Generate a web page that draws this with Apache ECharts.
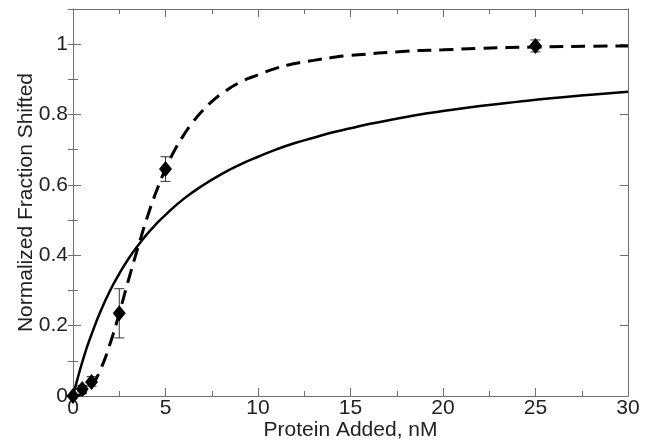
<!DOCTYPE html>
<html>
<head>
<meta charset="utf-8">
<script src="https://cdn.jsdelivr.net/npm/echarts@6/dist/echarts.min.js"></script>
<style>
  html, body { margin: 0; padding: 0; background: #fff; }
  #chart { width: 653px; height: 440px; }
</style>
</head>
<body>
<div id="chart"></div>
<script>
// measured points with error bars
const pointX = [0, 0.5, 1, 2.5, 5, 25];
const pointY = [0, 0.02, 0.04, 0.235, 0.645, 0.995];
const errLow = [0, 0.012, 0.028, 0.165, 0.61, 0.978];
const errHigh = [0, 0.03, 0.055, 0.305, 0.68, 1.012];

// solid fit curve
const solidX = [0, 0.25, 0.5, 0.75, 1, 1.5, 2, 2.5, 3, 3.5, 4, 4.5, 5, 6, 7, 8, 9, 10, 11, 12, 13, 14, 15, 16, 17, 18, 19, 20, 22, 24, 26, 28, 30];
const solidY = [0, 0.05, 0.096, 0.138, 0.175, 0.242, 0.299, 0.347, 0.39, 0.427, 0.46, 0.489, 0.515, 0.561, 0.598, 0.63, 0.657, 0.68, 0.701, 0.719, 0.734, 0.749, 0.761, 0.773, 0.783, 0.793, 0.802, 0.81, 0.824, 0.836, 0.847, 0.856, 0.865];

// dashed fit curve
const dashX = [0, 0.5, 1, 1.5, 2, 2.5, 3, 3.5, 4, 4.5, 5, 5.5, 6, 6.5, 7, 7.5, 8, 9, 10, 11, 12, 13, 14, 15, 18, 20, 22, 25, 28, 30];
const dashY = [0, 0.005, 0.029, 0.077, 0.148, 0.235, 0.33, 0.42, 0.506, 0.581, 0.645, 0.699, 0.743, 0.78, 0.811, 0.837, 0.858, 0.891, 0.913, 0.932, 0.945, 0.954, 0.962, 0.968, 0.98, 0.984, 0.988, 0.992, 0.994, 0.995];

const yTicks = [0, 0.2, 0.4, 0.6, 0.8, 1];

function pairs (xs, ys) { return xs.map((x, i) => [x, ys[i]]); }

const frameColor = '#6e6e6e';
const textColor = '#222';
const font = 'Liberation Sans, Arial, Helvetica, sans-serif';

function yLabel (v) {
  if (v === 0) return '0';
  if (v === 1) return '1';
  return yTicks.indexOf(+v.toFixed(1)) >= 0 ? v.toFixed(1) : '';
}

const chart = echarts.init(document.getElementById('chart'), null, { renderer: 'canvas' });

const tickStyle = { color: frameColor, width: 1 };

chart.setOption({
  animation: false,
  backgroundColor: '#fff',
  grid: { left: 73, right: 25, top: 9, bottom: 44, containLabel: false, outerBoundsMode: 'none' },
  xAxis: [
    {
      type: 'value', position: 'bottom', min: 0, max: 30, interval: 5,
      name: 'Protein Added, nM', nameLocation: 'middle', nameGap: 24, nameMoveOverlap: false,
      nameTextStyle: { color: textColor, fontSize: 21, fontFamily: font },
      axisLine: { show: true, onZero: false, lineStyle: { color: frameColor, width: 1 } },
      axisTick: { show: true, inside: true, length: 8, lineStyle: tickStyle },
      minorTick: { show: true, splitNumber: 2, length: 5, lineStyle: tickStyle },
      axisLabel: { color: textColor, fontSize: 21, fontFamily: font, margin: 2 },
      splitLine: { show: false }
    },
    {
      type: 'value', position: 'top', min: 0, max: 30, interval: 5,
      axisLine: { show: true, onZero: false, lineStyle: { color: frameColor, width: 1 } },
      axisTick: { show: true, inside: true, length: 8, lineStyle: tickStyle },
      minorTick: { show: true, splitNumber: 2, length: 5, lineStyle: tickStyle },
      axisLabel: { show: false },
      splitLine: { show: false }
    }
  ],
  yAxis: [
    {
      type: 'value', position: 'left', min: 0, max: 1.1, interval: 0.2,
      name: 'Normalized Fraction Shifted', nameLocation: 'middle', nameGap: 36, nameMoveOverlap: false,
      nameTextStyle: { color: textColor, fontSize: 21, fontFamily: font },
      axisLine: { show: true, onZero: false, lineStyle: { color: frameColor, width: 1 } },
      axisTick: { show: true, inside: true, length: 8, lineStyle: tickStyle },
      axisLabel: { color: textColor, fontSize: 21, fontFamily: font, margin: 5, showMaxLabel: false, formatter: yLabel },
      splitLine: { show: false }
    },
    {
      type: 'value', position: 'left', min: 0, max: 1.1, interval: 0.1,
      axisLine: { show: false },
      axisTick: { show: true, inside: true, length: 5, lineStyle: tickStyle },
      axisLabel: { show: false },
      splitLine: { show: false }
    },
    {
      type: 'value', position: 'right', min: 0, max: 1.1, interval: 0.2,
      axisLine: { show: true, onZero: false, lineStyle: { color: frameColor, width: 1 } },
      axisTick: { show: true, inside: true, length: 8, lineStyle: tickStyle },
      axisLabel: { show: false },
      splitLine: { show: false }
    },
    {
      type: 'value', position: 'right', min: 0, max: 1.1, interval: 0.1,
      axisLine: { show: false },
      axisTick: { show: true, inside: true, length: 5, lineStyle: tickStyle },
      axisLabel: { show: false },
      splitLine: { show: false }
    }
  ],
  series: [
    {
      name: 'solid', type: 'line', smooth: 0.5, showSymbol: false,
      data: pairs(solidX, solidY),
      lineStyle: { color: '#000', width: 2.5 },
      z: 2
    },
    {
      name: 'dashed', type: 'line', smooth: 0.5, showSymbol: false,
      data: pairs(dashX, dashY),
      lineStyle: { color: '#000', width: 3, type: [14, 8] },
      z: 2
    },
    {
      name: 'errors', type: 'custom',
      data: pointX.map((x, i) => [x, errLow[i], errHigh[i]]),
      renderItem: function (params, api) {
        const lo = api.coord([api.value(0), api.value(1)]);
        const hi = api.coord([api.value(0), api.value(2)]);
        const hw = 5;
        const style = { stroke: '#333', lineWidth: 1 };
        return {
          type: 'group',
          children: [
            { type: 'line', shape: { x1: lo[0], y1: lo[1], x2: hi[0], y2: hi[1] }, style: style },
            { type: 'line', shape: { x1: lo[0] - hw, y1: lo[1], x2: lo[0] + hw, y2: lo[1] }, style: style },
            { type: 'line', shape: { x1: hi[0] - hw, y1: hi[1], x2: hi[0] + hw, y2: hi[1] }, style: style }
          ]
        };
      },
      z: 3
    },
    {
      name: 'points', type: 'scatter', symbol: 'diamond', symbolSize: [13, 16],
      data: pairs(pointX, pointY),
      itemStyle: { color: '#000', opacity: 1 },
      z: 4
    }
  ]
});
</script>
</body>
</html>
